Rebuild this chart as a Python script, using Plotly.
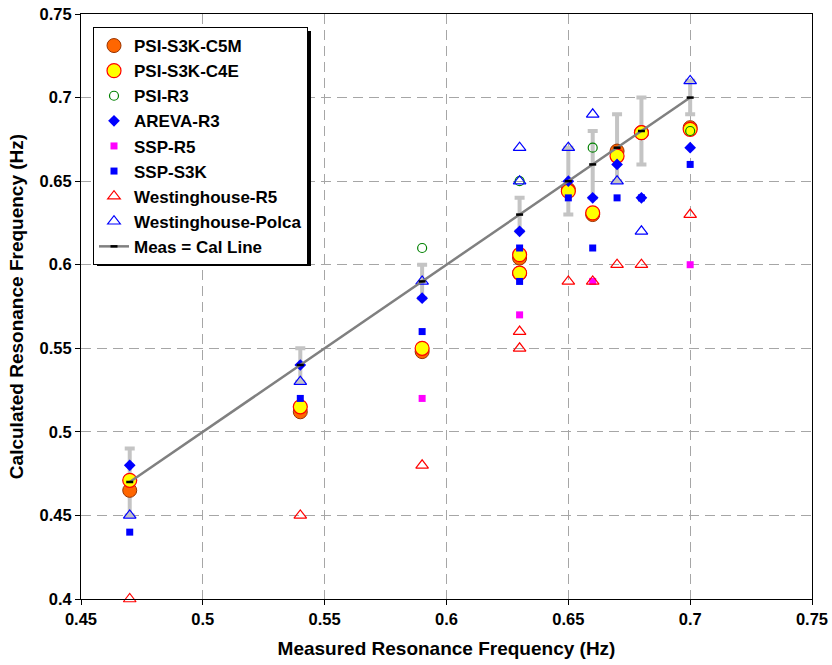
import plotly.graph_objects as go

# ---- data ----
x_c5m = [0.47, 0.54, 0.59, 0.63, 0.63, 0.65, 0.66, 0.67, 0.68, 0.70]
y_c5m = [0.465, 0.512, 0.548, 0.604, 0.595, 0.645, 0.630, 0.668, 0.679, 0.682]

x_c4e = [0.47, 0.54, 0.59, 0.63, 0.63, 0.65, 0.66, 0.67, 0.68, 0.70]
y_c4e = [0.471, 0.515, 0.550, 0.606, 0.595, 0.644, 0.631, 0.665, 0.679, 0.681]

x_psir3 = [0.59, 0.63, 0.66, 0.70]
y_psir3 = [0.61, 0.65, 0.67, 0.68]

x_areva = [0.47, 0.54, 0.59, 0.63, 0.65, 0.66, 0.67, 0.68, 0.70]
y_areva = [0.48, 0.54, 0.58, 0.62, 0.65, 0.64, 0.66, 0.64, 0.67]

x_sspr5 = [0.59, 0.63, 0.66, 0.70]
y_sspr5 = [0.52, 0.57, 0.59, 0.60]

x_ssps3k = [0.47, 0.54, 0.59, 0.63, 0.63, 0.65, 0.66, 0.67, 0.68, 0.70]
y_ssps3k = [0.44, 0.52, 0.56, 0.61, 0.59, 0.64, 0.61, 0.64, 0.64, 0.66]

x_wr5 = [0.47, 0.54, 0.59, 0.63, 0.63, 0.65, 0.66, 0.67, 0.68, 0.70]
y_wr5 = [0.40, 0.45, 0.48, 0.56, 0.55, 0.59, 0.59, 0.60, 0.60, 0.63]

x_polca = [0.47, 0.54, 0.59, 0.63, 0.63, 0.65, 0.66, 0.67, 0.68, 0.70]
y_polca = [0.45, 0.53, 0.59, 0.67, 0.65, 0.67, 0.69, 0.65, 0.62, 0.71]

x_meas = [0.47, 0.54, 0.59, 0.63, 0.65, 0.66, 0.67, 0.68, 0.70]
y_meas = [0.47, 0.54, 0.59, 0.63, 0.65, 0.66, 0.67, 0.68, 0.70]
err_meas = [0.02, 0.01, 0.01, 0.01, 0.02, 0.02, 0.02, 0.02, 0.01]

x_tickvals = [0.45, 0.5, 0.55, 0.6, 0.65, 0.7, 0.75]
x_ticktext = ["0.45", "0.5", "0.55", "0.6", "0.65", "0.7", "0.75"]
y_tickvals = [0.4, 0.45, 0.5, 0.55, 0.6, 0.65, 0.7, 0.75]
y_ticktext = ["0.4", "0.45", "0.5", "0.55", "0.6", "0.65", "0.7", "0.75"]

FONT = "Arial, Liberation Sans, sans-serif"

W, H = 832, 665
PL, PT, PW, PH = 81, 14, 731, 585  # plot area inside the figure

fig = go.Figure()

# error bars drawn first (behind markers)
fig.add_trace(go.Scatter(
    x=x_meas, y=y_meas, mode="markers", showlegend=False, hoverinfo="skip",
    marker=dict(size=1, color="rgba(0,0,0,0)"),
    error_y=dict(type="data", array=err_meas, visible=True,
                 color="#c4c4c4", thickness=4, width=5),
))

fig.add_trace(go.Scatter(
    x=x_c5m, y=y_c5m, mode="markers", name="PSI-S3K-C5M",
    marker=dict(symbol="circle", size=14, color="#FF6600",
                line=dict(color="#993300", width=1)),
))
fig.add_trace(go.Scatter(
    x=x_c4e, y=y_c4e, mode="markers", name="PSI-S3K-C4E",
    marker=dict(symbol="circle", size=14, color="#FFFF00",
                line=dict(color="#FF0000", width=1.2)),
))
fig.add_trace(go.Scatter(
    x=x_psir3, y=y_psir3, mode="markers", name="PSI-R3",
    marker=dict(symbol="circle-open", size=9, color="#008000",
                line=dict(color="#008000", width=1.2)),
))
fig.add_trace(go.Scatter(
    x=x_areva, y=y_areva, mode="markers", name="AREVA-R3",
    marker=dict(symbol="diamond", size=9, color="#0000FF"),
))
fig.add_trace(go.Scatter(
    x=x_sspr5, y=y_sspr5, mode="markers", name="SSP-R5",
    marker=dict(symbol="square", size=7, color="#FF00FF"),
))
fig.add_trace(go.Scatter(
    x=x_ssps3k, y=y_ssps3k, mode="markers", name="SSP-S3K",
    marker=dict(symbol="square", size=7, color="#0000FF"),
))
fig.add_trace(go.Scatter(
    x=x_wr5, y=y_wr5, mode="markers", name="Westinghouse-R5", cliponaxis=False,
    marker=dict(symbol="triangle-up-open", size=11, color="#FF0000",
                line=dict(color="#FF0000", width=1.2)),
))
fig.add_trace(go.Scatter(
    x=x_polca, y=y_polca, mode="markers", name="Westinghouse-Polca",
    marker=dict(symbol="triangle-up-open", size=11, color="#0000FF",
                line=dict(color="#0000FF", width=1.2)),
))
fig.add_trace(go.Scatter(
    x=x_meas, y=y_meas, mode="lines+markers", name="Meas = Cal Line",
    line=dict(color="#808080", width=2.5),
    marker=dict(symbol="line-ew", size=5, color="black",
                line=dict(color="black", width=2.5)),
))

axis_common = dict(
    showline=True, linecolor="black", linewidth=1, mirror=True,
    ticks="outside", ticklen=5, tickcolor="black",
    showgrid=True, gridcolor="#a6a6a6", gridwidth=1, griddash="10px,6px",
    zeroline=False, automargin=False,
    tickfont=dict(family=FONT, size=16.5, color="black", weight="bold"),
)

fig.update_xaxes(
    range=[0.45, 0.75], tickvals=x_tickvals, ticktext=x_ticktext,
    title=dict(text="Measured Resonance Frequency (Hz)", standoff=14,
               font=dict(family=FONT, size=19, color="black", weight="bold")),
    **axis_common,
)
fig.update_yaxes(
    range=[0.4, 0.75], tickvals=y_tickvals, ticktext=y_ticktext,
    title=dict(text="Calculated Resonance Frequency (Hz)", standoff=10,
               font=dict(family=FONT, size=19, color="black", weight="bold")),
    **axis_common,
)

# legend box (in figure px) -> shadow offset by 4px
LEG_L, LEG_T, LEG_W, LEG_H, SH = 93, 27, 214, 235, 4

fig.update_layout(
    width=W, height=H,
    margin=dict(l=PL, r=W - PL - PW, t=PT, b=H - PT - PH, autoexpand=False),
    paper_bgcolor="white", plot_bgcolor="white",
    font=dict(family=FONT, color="black"),
    legend=dict(
        x=(LEG_L - PL) / PW, y=1 - (LEG_T - PT) / PH,
        xanchor="left", yanchor="top",
        bgcolor="white", bordercolor="black", borderwidth=1,
        font=dict(family=FONT, size=17, color="black", weight="bold"),
        tracegroupgap=0, itemsizing="trace",
    ),
    shapes=[dict(
        type="rect", xref="paper", yref="paper", layer="above",
        x0=(LEG_L + SH - PL) / PW, x1=(LEG_L + LEG_W + SH - PL) / PW,
        y0=1 - (LEG_T + LEG_H + SH - PT) / PH, y1=1 - (LEG_T + SH - PT) / PH,
        fillcolor="black", line=dict(width=0),
    )],
)

fig.write_html(
    "out.html",
    config={"displayModeBar": False},
    post_script="document.body.style.margin='0';document.body.style.overflow='hidden';",
)
